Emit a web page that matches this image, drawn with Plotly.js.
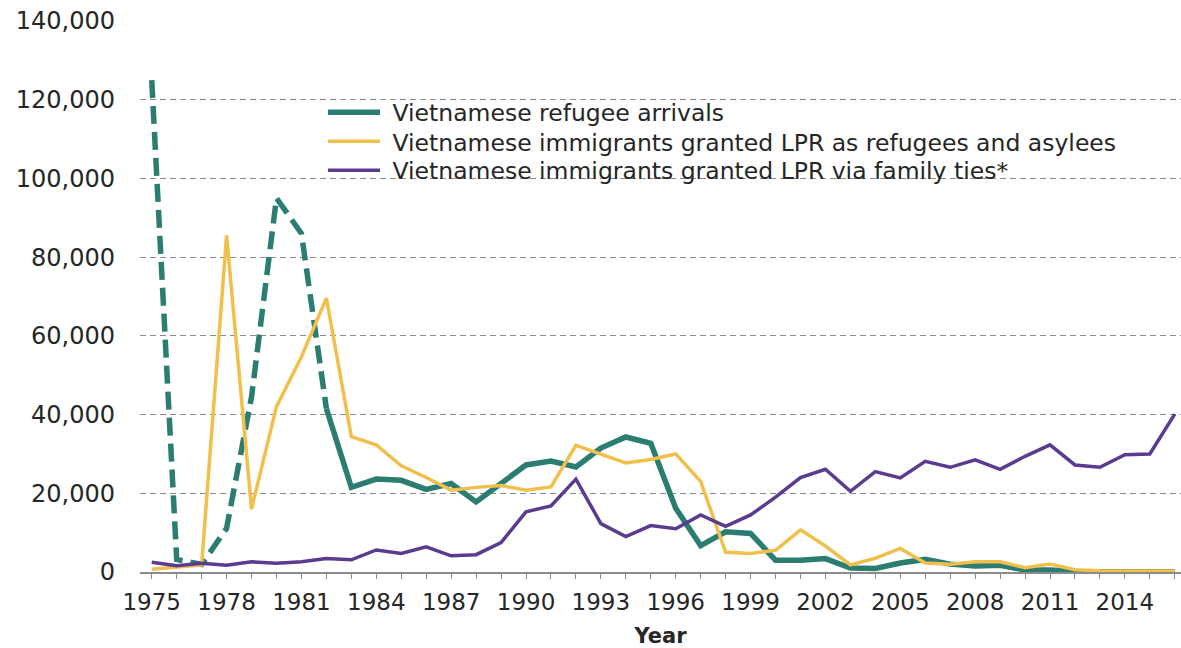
<!DOCTYPE html>
<html>
<head>
<meta charset="utf-8">
<script src="https://cdn.plot.ly/plotly-3.0.1.min.js"></script>
<style>
  html, body { margin: 0; padding: 0; background: #ffffff; }
  #chart { width: 1181px; height: 648px; }
</style>
</head>
<body>
<div id="chart"></div>
<script>
// ---- Data ----
const years = [1975, 1976, 1977, 1978, 1979, 1980, 1981, 1982, 1983, 1984,
               1985, 1986, 1987, 1988, 1989, 1990, 1991, 1992, 1993, 1994,
               1995, 1996, 1997, 1998, 1999, 2000, 2001, 2002, 2003, 2004,
               2005, 2006, 2007, 2008, 2009, 2010, 2011, 2012, 2013, 2014,
               2015, 2016];

const refugeeArrivals = [125000, 3200, 1900, 11100, 44500, 95000, 86000, 41500, 21500, 23600,
                         23300, 21000, 22500, 17800, 22600, 27200, 28200, 26700, 31500, 34300,
                         32700, 16200, 6700, 10200, 9800, 3000, 3000, 3400, 1000, 900,
                         2300, 3200, 2000, 1500, 1700, 500, 500, 100, 50, 50,
                         50, 50];

const lprRefugeesAsylees = [700, 1300, 1800, 85500, 16000, 42000, 54700, 69600, 34400, 32300,
                            27000, 24000, 20800, 21500, 22000, 20800, 21600, 32200, 30000, 27700,
                            28600, 30000, 23000, 5000, 4700, 5500, 10700, 6600, 1800, 3500,
                            6000, 2300, 2000, 2600, 2600, 1100, 2000, 600, 300, 250,
                            250, 250];

const lprFamilyTies = [2500, 1600, 2200, 1700, 2600, 2200, 2600, 3400, 3100, 5600,
                       4700, 6400, 4100, 4400, 7500, 15300, 16800, 23600, 12300, 9000,
                       11800, 11000, 14500, 11600, 14500, 19000, 24000, 26100, 20500, 25500,
                       23900, 28100, 26600, 28500, 26100, 29400, 32300, 27200, 26600, 29800,
                       30000, 40100];

// Refugee arrivals are drawn dashed up to this year, solid from it on
const dashedUntilYear = 1982;

const seriesNames = [
  "Vietnamese refugee arrivals",
  "Vietnamese immigrants granted LPR as refugees and asylees",
  "Vietnamese immigrants granted LPR via family ties*"
];

const xTickVals = [1975, 1978, 1981, 1984, 1987, 1990, 1993, 1996, 1999, 2002, 2005, 2008, 2011, 2014];
const yTickVals = [0, 20000, 40000, 60000, 80000, 100000, 120000, 140000];

// ---- Styles ----
const TEAL = "#2c7d71";
const YELLOW = "#f1c04c";
const PURPLE = "#5b3b8f";
const FONT = "'DejaVu Sans', Verdana, sans-serif";
const TEXT = "#262626";

const cut = years.indexOf(dashedUntilYear);

const traces = [
  {
    x: years.slice(0, cut + 1),
    y: refugeeArrivals.slice(0, cut + 1),
    type: "scatter", mode: "lines",
    line: { color: TEAL, width: 5.5, dash: "18px,8px" },
    showlegend: false, hoverinfo: "skip"
  },
  {
    x: years.slice(cut),
    y: refugeeArrivals.slice(cut),
    type: "scatter", mode: "lines",
    name: "\u00a0" + seriesNames[0],
    legend: "legend",
    line: { color: TEAL, width: 5.5 }
  },
  {
    x: years, y: lprRefugeesAsylees,
    type: "scatter", mode: "lines",
    name: "\u00a0" + seriesNames[1],
    legend: "legend2",
    line: { color: YELLOW, width: 3.5 }
  },
  {
    x: years, y: lprFamilyTies,
    type: "scatter", mode: "lines",
    name: "\u00a0" + seriesNames[2],
    legend: "legend3",
    line: { color: PURPLE, width: 3.5 }
  }
];

function legendAt(yPaper) {
  return {
    x: 0.1758, y: yPaper, xanchor: "left", yanchor: "middle",
    bgcolor: "rgba(0,0,0,0)",
    borderwidth: 0,
    font: { family: FONT, size: 23.5, color: TEXT },
    itemwidth: 52
  };
}

const layout = {
  width: 1181, height: 648,
  margin: { l: 140, r: 0, t: 21, b: 76, pad: 0 },
  paper_bgcolor: "#ffffff",
  plot_bgcolor: "#ffffff",
  font: { family: FONT, color: TEXT, size: 22 },
  showlegend: true,
  legend: legendAt(0.8339),
  legend2: legendAt(0.7812),
  legend3: legendAt(0.7286),
  xaxis: {
    range: [1974.53, 2016.25],
    tickmode: "array",
    tickvals: xTickVals,
    ticktext: xTickVals.map(String),
    ticks: "outside", ticklen: 5, tickwidth: 1, tickcolor: "#8c8c8c",
    minor: { dtick: 1, tick0: 1975, ticks: "outside", ticklen: 5, tickwidth: 1, tickcolor: "#8c8c8c", showgrid: false },
    showgrid: false,
    showline: true, linecolor: "#8c8c8c", linewidth: 1.5,
    zeroline: false,
    ticklabelstandoff: 4,
    tickfont: { family: FONT, size: 23, color: TEXT },
    title: { text: "<b>Year</b>", font: { family: FONT, size: 21, color: TEXT }, standoff: 15 }
  },
  yaxis: {
    range: [0, 140000],
    tickmode: "array",
    tickvals: yTickVals,
    tickformat: ",d",
    showgrid: true, gridcolor: "#8a8a8a", gridwidth: 1, griddash: "6px,4px",
    zeroline: false,
    showline: false,
    ticks: "",
    ticklabelstandoff: 24,
    tickfont: { family: FONT, size: 24, color: TEXT }
  }
};

Plotly.newPlot("chart", traces, layout, { displayModeBar: false, staticPlot: true });
</script>
</body>
</html>
